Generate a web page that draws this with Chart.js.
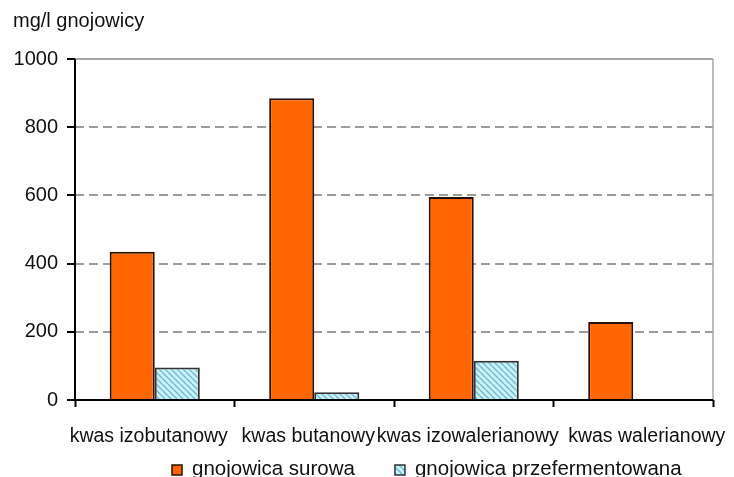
<!DOCTYPE html>
<html>
<head>
<meta charset="utf-8">
<script src="https://cdn.jsdelivr.net/npm/chart.js@4.4.1/dist/chart.umd.min.js"></script>
<style>
  html, body { margin: 0; padding: 0; background: #ffffff; }
  canvas { display: block; }
</style>
</head>
<body>
<canvas id="chart" width="734" height="477"></canvas>
<script>
// Volatile fatty acids in slurry, raw vs. pre-fermented (mg per litre of slurry)
const categories = ['kwas izobutanowy', 'kwas butanowy', 'kwas izowalerianowy', 'kwas walerianowy'];
const surowa = [435, 885, 595, 229];
const przefermentowana = [95, 23, 115, null];
const seriesNames = ['gnojowica surowa', 'gnojowica przefermentowana'];
const yMin = 0;
const yMax = 1000;
const yStep = 200;
const unitLabel = 'mg/l gnojowicy';

const FONT = "'Liberation Sans', Arial, sans-serif";
const ORANGE = '#ff6600';
const ORANGE_EDGE = '#2a1000';
const HATCH_EDGE = '#333333';

// Light cyan fill with "\" diagonal stripes
function makeHatch() {
  const s = 6;
  const c = document.createElement('canvas');
  c.width = s; c.height = s;
  const g = c.getContext('2d');
  g.fillStyle = '#ccf0f8';
  g.fillRect(0, 0, s, s);
  g.strokeStyle = '#6fbfcf';
  g.lineWidth = 1.5;
  g.beginPath();
  for (let k = -1; k <= 1; k++) {
    g.moveTo(0, k * s);
    g.lineTo(s, s + k * s);
  }
  g.stroke();
  return g.createPattern(c, 'repeat');
}
const hatch = makeHatch();

// Axis lines, top frame line, right edge, unit caption and legend
const decor = {
  id: 'decor',
  beforeDatasetsDraw(chart) {
    const { ctx, chartArea } = chart;
    const yTop = chart.scales.y.getPixelForValue(yMax);
    ctx.save();
    ctx.setLineDash([]);
    ctx.strokeStyle = '#a6a6a6';
    ctx.lineWidth = 2;
    ctx.beginPath();
    ctx.moveTo(chartArea.left, yTop);
    ctx.lineTo(chartArea.right, yTop);
    ctx.stroke();
    ctx.lineWidth = 1.5;
    ctx.beginPath();
    ctx.moveTo(chartArea.right, yTop);
    ctx.lineTo(chartArea.right, chartArea.bottom);
    ctx.stroke();
    ctx.restore();
  },
  afterDatasetsDraw(chart) {
    const { ctx, chartArea } = chart;
    ctx.save();
    ctx.setLineDash([]);
    ctx.strokeStyle = '#000000';
    ctx.lineWidth = 2;
    ctx.beginPath();
    ctx.moveTo(chartArea.left, chartArea.top);
    ctx.lineTo(chartArea.left, chartArea.bottom);
    ctx.lineTo(chartArea.right, chartArea.bottom);
    ctx.stroke();
    ctx.restore();
  },
  afterDraw(chart) {
    const { ctx } = chart;
    ctx.save();
    ctx.fillStyle = '#111111';
    ctx.textBaseline = 'alphabetic';
    ctx.textAlign = 'left';
    ctx.font = '20px ' + FONT;
    ctx.fillText(unitLabel, 13, 26.5);

    // legend
    ctx.font = '20.5px ' + FONT;
    const boxSize = 10, boxGap = 10, itemGap = 40;
    let x = 172;
    const baseY = 475;
    chart.data.datasets.forEach((ds) => {
      ctx.fillStyle = ds.backgroundColor;
      ctx.fillRect(x, baseY - boxSize, boxSize, boxSize);
      ctx.strokeStyle = ds.borderColor;
      ctx.lineWidth = 1.5;
      ctx.strokeRect(x, baseY - boxSize, boxSize, boxSize);
      x += boxSize + boxGap;
      ctx.fillStyle = '#111111';
      ctx.fillText(ds.label, x, baseY);
      x += ctx.measureText(ds.label).width + itemGap;
    });
    ctx.restore();
  }
};

new Chart(document.getElementById('chart'), {
  type: 'bar',
  data: {
    labels: categories,
    datasets: [
      {
        label: seriesNames[0],
        data: surowa,
        backgroundColor: ORANGE,
        borderColor: ORANGE_EDGE,
        borderWidth: 2,
        borderSkipped: 'start'
      },
      {
        label: seriesNames[1],
        data: przefermentowana,
        backgroundColor: hatch,
        borderColor: HATCH_EDGE,
        borderWidth: 2,
        borderSkipped: 'start'
      }
    ]
  },
  options: {
    responsive: false,
    animation: false,
    events: [],
    layout: { padding: { top: 59, right: 21, left: 0, bottom: 0 } },
    datasets: {
      bar: { categoryPercentage: 0.565, barPercentage: 1.0 }
    },
    plugins: {
      legend: { display: false },
      title: { display: false },
      tooltip: { enabled: false }
    },
    scales: {
      x: {
        afterFit(scale) {
          scale.height = 77;
          scale.paddingLeft = 0;
          scale.paddingRight = 0;
        },
        border: { display: false },
        grid: {
          offset: true,
          drawOnChartArea: false,
          drawTicks: true,
          tickLength: 7,
          color: '#000000',
          tickColor: '#000000',
          tickWidth: 2
        },
        ticks: {
          color: '#111111',
          font: { family: FONT, size: 19.5 },
          padding: 18,
          labelOffset: -6,
          maxRotation: 0,
          autoSkip: false,
          // last label nudged right so it clears its neighbour
          callback(value, index) {
            const label = this.getLabelForValue(value);
            return index === categories.length - 1 ? '\u2002\u2002\u2002\u2002' + label : label;
          }
        }
      },
      y: {
        min: yMin,
        max: yMax,
        afterFit(scale) { scale.width = 75; },
        border: { display: false, dash: [9, 5] },
        grid: {
          drawTicks: true,
          tickLength: 8,
          tickColor: '#000000',
          tickWidth: 2,
          tickBorderDash: [1, 0],
          lineWidth: 2,
          color: (ctx) => (ctx.tick && (ctx.tick.value === yMin || ctx.tick.value === yMax)) ? 'rgba(0,0,0,0)' : '#9c9c9c'
        },
        ticks: {
          stepSize: yStep,
          color: '#111111',
          font: { family: FONT, size: 20 },
          padding: 9,
          callback: (v) => String(v)
        }
      }
    }
  },
  plugins: [decor]
});
</script>
</body>
</html>
